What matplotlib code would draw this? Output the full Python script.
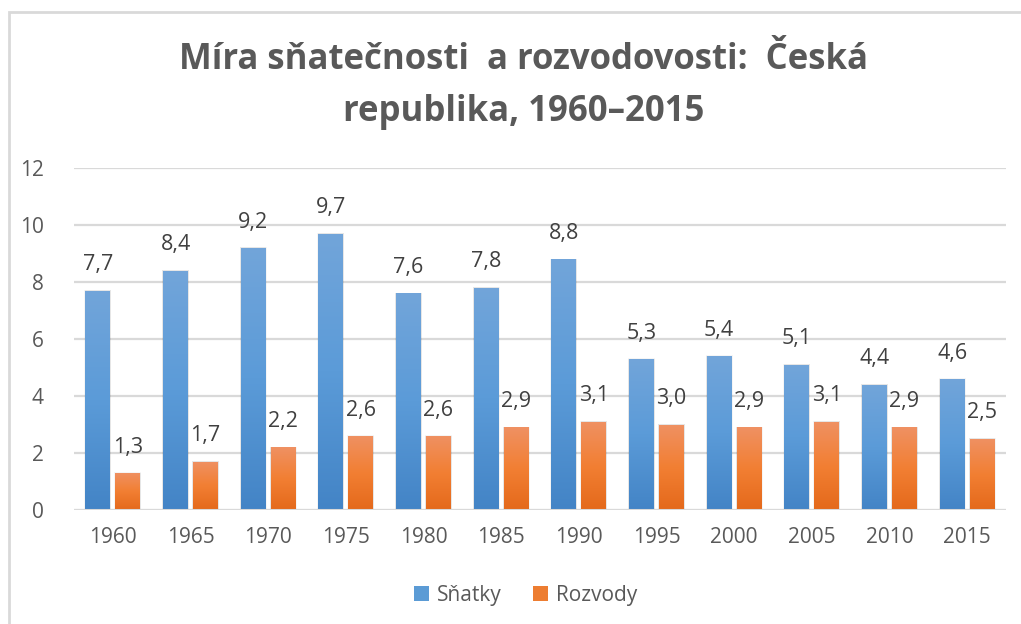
import matplotlib
matplotlib.use("Agg")
import matplotlib.pyplot as plt
import numpy as np
from matplotlib.patches import Patch, Rectangle
from matplotlib.colors import LinearSegmentedColormap

years = ["1960", "1965", "1970", "1975", "1980", "1985", "1990", "1995", "2000", "2005", "2010", "2015"]
snatky = [7.7, 8.4, 9.2, 9.7, 7.6, 7.8, 8.8, 5.3, 5.4, 5.1, 4.4, 4.6]
rozvody = [1.3, 1.7, 2.2, 2.6, 2.6, 2.9, 3.1, 3.0, 2.9, 3.1, 2.9, 2.5]
series_names = ["Sňatky", "Rozvody"]
title = "Míra sňatečnosti  a rozvodovosti:  Česká\nrepublika, 1960–2015"

FONT = "Open Sans"
plt.rcParams["font.family"] = [FONT, "DejaVu Sans"]

fig = plt.figure(figsize=(10.21, 6.24), dpi=100)
ax = fig.add_axes([74 / 1021, 1 - 510 / 624, 932 / 1021, 342 / 624])

x = np.arange(len(years))
w = 0.32
off = 0.193
blue_cmap = LinearSegmentedColormap.from_list("b", ["#4384c6", "#5b9bd8", "#72a5da"])
orange_cmap = LinearSegmentedColormap.from_list("o", ["#e4691b", "#f27f33", "#ef9163"])

b1 = ax.bar(x - off, snatky, w, color="#5b9bd5", zorder=3)
b2 = ax.bar(x + off, rozvody, w, color="#ed7d31", zorder=3)

grad = np.linspace(0, 1, 256).reshape(-1, 1)
for bars, cmap in ((b1, blue_cmap), (b2, orange_cmap)):
    for p in bars:
        bx, by = p.get_x(), p.get_y()
        bw, bh = p.get_width(), p.get_height()
        # soft shadow
        for k, a in ((0.03, 0.04), (0.016, 0.06)):
            sh = Rectangle((bx - k * 0.5, by), bw + k, bh + k * 0.8, facecolor="#000000",
                           alpha=a, edgecolor="none", zorder=2)
            ax.add_patch(sh)
        im = ax.imshow(grad, cmap=cmap, aspect="auto", origin="lower",
                       extent=(bx, bx + bw, by, by + bh), zorder=3.5)
        im.set_clip_path(p)
        p.set_facecolor("none")

for bars, vals in ((b1, snatky), (b2, rozvody)):
    for p, v in zip(bars, vals):
        ax.annotate(f"{v:.1f}".replace(".", ","), (p.get_x() + p.get_width() / 2, v),
                    xytext=(0, 11), textcoords="offset points", ha="center", va="bottom",
                    fontsize=15.5, color="#404040", zorder=5)

ax.set_xlim(-0.5, len(years) - 0.5)
ax.set_ylim(0, 12)
ax.set_yticks(np.arange(0, 13, 2))
ax.set_xticks(x)
ax.set_xticklabels(years)
ax.tick_params(axis="both", length=0, labelsize=15, labelcolor="#595959")
ax.tick_params(axis="x", pad=12)
ax.tick_params(axis="y", pad=22)
ax.grid(axis="y", color="#d9d9d9", linewidth=1.6, zorder=0)
for s in ax.spines.values():
    s.set_visible(False)
ax.axhline(0, color="#d9d9d9", linewidth=2.2, zorder=4)

fig.text(0.513, 1 - 86 / 624, title, ha="center", va="center", fontsize=25,
         fontweight="bold", color="#595959", linespacing=1.58)

handles = [Patch(facecolor="#5b9bd5"), Patch(facecolor="#ed7d31")]
fig.legend(handles, series_names, loc="center", bbox_to_anchor=(0.515, 1 - 595 / 624),
           ncol=2, frameon=False, fontsize=15, labelcolor="#595959",
           handlelength=0.7, handleheight=0.7, handletextpad=0.4, columnspacing=1.5)

border = Rectangle((9 / 1021, -0.05), 1.1, 1 - 12 / 624 + 0.05, transform=fig.transFigure,
                   facecolor="none", edgecolor="#d9d9d9", linewidth=2, zorder=0)
fig.patches.append(border)

fig.savefig("out.png", dpi=100)
